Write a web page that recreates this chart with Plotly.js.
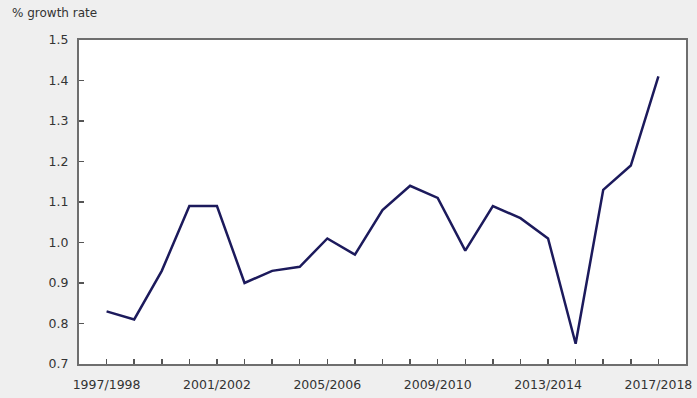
<!DOCTYPE html>
<html>
<head>
<meta charset="utf-8">
<script src="https://cdn.plot.ly/plotly-3.0.1.min.js"></script>
<style>html,body{margin:0;padding:0;background:#efefef;}#chart{width:697px;height:398px;}</style>
</head>
<body>
<div id="chart"></div>
<script>
const categories = ["1997/1998","1998/1999","1999/2000","2000/2001","2001/2002","2002/2003","2003/2004","2004/2005","2005/2006","2006/2007","2007/2008","2008/2009","2009/2010","2010/2011","2011/2012","2012/2013","2013/2014","2014/2015","2015/2016","2016/2017","2017/2018"];
const growthRate = [0.83,0.81,0.93,1.09,1.09,0.90,0.93,0.94,1.01,0.97,1.08,1.14,1.11,0.98,1.09,1.06,1.01,0.75,1.13,1.19,1.41];
const yTicks = [0.7,0.8,0.9,1.0,1.1,1.2,1.3,1.4,1.5];
const yTickText = ["0.7","0.8","0.9","1.0","1.1","1.2","1.3","1.4","1.5"];
const xTickText = categories.map((c,i)=> i%4===0 ? c : "");

const trace = {
  x: categories, y: growthRate, type: "scatter", mode: "lines",
  line: {color: "#1c1a5c", width: 2.5}, hoverinfo: "skip"
};
const layout = {
  width: 697, height: 398,
  margin: {l: 79, r: 11, t: 40, b: 34},
  paper_bgcolor: "#efefef", plot_bgcolor: "#ffffff",
  font: {family: "DejaVu Sans, Verdana, sans-serif", size: 12.5, color: "#333333"},
  showlegend: false,
  title: {text: "% growth rate", x: 12/697, xanchor: "left", xref: "container", y: 1-13/398, yanchor: "middle", yref: "container", font: {size: 12, color: "#333333"}},
  xaxis: {
    type: "category", range: [-1, 21],
    tickmode: "array", tickvals: categories, ticktext: xTickText,
    ticks: "inside", ticklen: 5, tickwidth: 1.5, tickcolor: "#555555",
    ticklabelstandoff: 8,
    showline: true, linecolor: "#6e6e6e", linewidth: 2, mirror: true,
    showgrid: false, zeroline: false, tickangle: 0
  },
  yaxis: {
    range: [0.7, 1.5], tickmode: "array", tickvals: yTicks, ticktext: yTickText,
    ticks: "inside", ticklen: 5, tickwidth: 1.5, tickcolor: "#555555",
    ticklabelstandoff: 6,
    showline: true, linecolor: "#6e6e6e", linewidth: 2, mirror: true,
    showgrid: false, zeroline: false
  }
};
Plotly.newPlot("chart", [trace], layout, {staticPlot: true, displayModeBar: false});
</script>
</body>
</html>
